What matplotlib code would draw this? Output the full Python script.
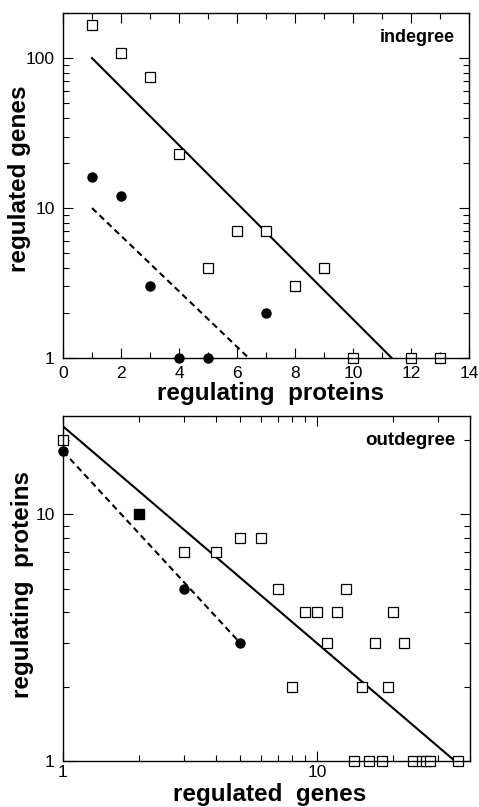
import matplotlib.pyplot as plt
import numpy as np
from matplotlib.ticker import FixedLocator, NullFormatter, LogLocator

plt.rcParams['font.family'] = ['Liberation Sans', 'DejaVu Sans']

# indegree panel data
in_open_x = [1, 2, 3, 4, 5, 6, 7, 8, 9, 10, 12, 13]
in_open_y = [166, 108, 75, 23, 4, 7, 7, 3, 4, 1, 1, 1]
in_fill_x = [1, 2, 3, 4, 5, 7]
in_fill_y = [16, 12, 3, 1, 1, 2]
# exponential fits: (x start, y start, x end, y end)
in_solid_fit = [1, 100, 11.33, 1]
in_dash_fit = [1, 10, 6.4, 1]

# outdegree panel data
out_open_x = [1, 3, 4, 5, 6, 7, 8, 9, 10, 11, 12, 13, 14, 15, 16, 17, 18, 19,
              20, 22, 24, 26, 27, 28, 36]
out_open_y = [20, 7, 7, 8, 8, 5, 2, 4, 4, 3, 4, 5, 1, 2, 1, 3, 1, 2,
              4, 3, 1, 1, 1, 1, 1]
out_fill_x = [1, 2, 3, 5]
out_fill_y = [18, 10, 5, 3]
out_fill_marker = ['o', 's', 'o', 'o']
# power law fits
out_solid_fit = [1, 22.7, 35, 1]
out_dash_fit = [1, 18, 5, 3]

fig = plt.figure(figsize=(4.79, 8.07), dpi=100)
ax1 = fig.add_axes([0.1315, 0.5564, 0.848, 0.4275])
ax2 = fig.add_axes([0.1315, 0.057, 0.849, 0.4275])

lab_font = dict(fontsize=17.5, fontweight='bold', va='center')


def style_axis(ax):
    ax.tick_params(which='both', direction='in', top=True, right=True,
                   labelsize=12.5, width=0.8, pad=6)
    ax.tick_params(which='major', length=7)
    ax.tick_params(which='minor', length=4)
    for s in ax.spines.values():
        s.set_linewidth(1.0)


# top panel: indegree
ax1.set_yscale('log')
ax1.set_xlim(0, 14)
ax1.set_ylim(1, 200)
ax1.plot([in_solid_fit[0], in_solid_fit[2]], [in_solid_fit[1], in_solid_fit[3]],
         color='black', lw=1.5)
ax1.plot([in_dash_fit[0], in_dash_fit[2]], [in_dash_fit[1], in_dash_fit[3]],
         color='black', lw=1.5, ls=(0, (3, 2)))
ax1.plot(in_open_x, in_open_y, ls='none', marker='s', ms=6.5, mfc='white',
         mec='black', mew=0.9, clip_on=False)
ax1.plot(in_fill_x, in_fill_y, ls='none', marker='o', ms=6.5, color='black',
         clip_on=False)
ax1.set_xticks(np.arange(0, 15, 2))
ax1.xaxis.set_minor_locator(FixedLocator(np.arange(1, 14, 2)))
ax1.set_yticks([1, 10, 100])
ax1.set_yticklabels(['1', '10', '100'])
ax1.yaxis.set_minor_locator(LogLocator(base=10, subs=np.arange(2, 10)))
ax1.yaxis.set_minor_formatter(NullFormatter())
style_axis(ax1)
ax1.set_xlabel('regulating  proteins', **lab_font)
ax1.set_ylabel('regulated genes', **lab_font)
ax1.xaxis.set_label_coords(0.51, -0.103)
ax1.yaxis.set_label_coords(-0.106, 0.52)
ax1.text(0.965, 0.955, 'indegree', transform=ax1.transAxes, ha='right', va='top',
         fontsize=13, fontweight='bold')

# bottom panel: outdegree
ax2.set_xscale('log')
ax2.set_yscale('log')
ax2.set_xlim(1, 40)
ax2.set_ylim(1, 25)
ax2.plot([out_solid_fit[0], out_solid_fit[2]], [out_solid_fit[1], out_solid_fit[3]],
         color='black', lw=1.5)
ax2.plot([out_dash_fit[0], out_dash_fit[2]], [out_dash_fit[1], out_dash_fit[3]],
         color='black', lw=1.5, ls=(0, (3, 2)))
ax2.plot(out_open_x, out_open_y, ls='none', marker='s', ms=6.5, mfc='white',
         mec='black', mew=0.9, clip_on=False)
for x, y, m in zip(out_fill_x, out_fill_y, out_fill_marker):
    ax2.plot(x, y, ls='none', marker=m, ms=6.5, color='black', clip_on=False)
for axis in (ax2.xaxis, ax2.yaxis):
    axis.set_major_locator(FixedLocator([1, 10]))
    axis.set_minor_locator(LogLocator(base=10, subs=np.arange(2, 10)))
    axis.set_minor_formatter(NullFormatter())
ax2.set_xticklabels(['1', '10'])
ax2.set_yticklabels(['1', '10'])
style_axis(ax2)
ax2.tick_params(axis='x', pad=3)
ax2.set_xlabel('regulated  genes', **lab_font)
ax2.set_ylabel('regulating  proteins', **lab_font)
ax2.xaxis.set_label_coords(0.509, -0.097)
ax2.yaxis.set_label_coords(-0.10, 0.512)
ax2.text(0.965, 0.955, 'outdegree', transform=ax2.transAxes, ha='right', va='top',
         fontsize=13.5, fontweight='bold')

fig.savefig('out.png', dpi=100)
